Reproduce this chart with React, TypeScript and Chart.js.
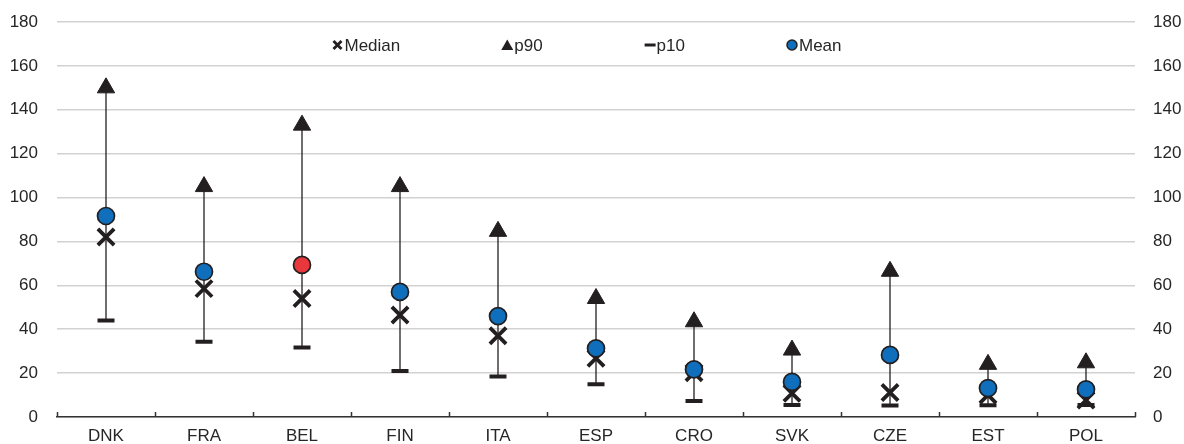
import React, { useEffect, useRef } from "react";
import { Chart, registerables } from "chart.js";

Chart.register(...registerables);

const categories = ["DNK", "FRA", "BEL", "FIN", "ITA", "ESP", "CRO", "SVK", "CZE", "EST", "POL"];
const p90Values = [150, 105, 133, 105, 84.6, 54, 43.4, 30.5, 66.4, 24, 24.7];
const meanValues = [91.6, 66.2, 69.3, 57, 46, 31.3, 21.7, 16, 28.3, 13.2, 12.6];
const medianValues = [82, 58.5, 54, 46.5, 37, 26.8, 20.2, 10.8, 11.2, 10, 7.7];
const p10Values = [44, 34.3, 31.7, 21, 18.4, 14.9, 7.3, 5.5, 5.2, 5.3, 5.5];
const highlightCategory = "BEL";
const yTicksMin = 0;
const yTicksMax = 180;
const yTicksStep = 20;

const DARK = "#231f20";
const BLUE = "#0f6fbd";
const RED = "#e8383d";
const GRID = "#d2d2d2";
const TEXT = "#262626";
const FONT = "'Liberation Sans', Arial, sans-serif";

const meanColors = categories.map((c) => (c === highlightCategory ? RED : BLUE));

const errorBarPlugin = {
  id: "errorBars",
  beforeDatasetsDraw(chart: any) {
    const { ctx } = chart;
    const xs = chart.scales.x;
    const ys = chart.scales.y;
    ctx.save();
    ctx.strokeStyle = DARK;
    ctx.lineWidth = 1.3;
    categories.forEach((_, i) => {
      const x = xs.getPixelForValue(i);
      ctx.beginPath();
      ctx.moveTo(x, ys.getPixelForValue(p10Values[i]));
      ctx.lineTo(x, ys.getPixelForValue(p90Values[i]));
      ctx.stroke();
    });
    ctx.restore();
  },
};

const axisTicksPlugin = {
  id: "axisTicks",
  afterDraw(chart: any) {
    const { ctx, chartArea } = chart;
    const xs = chart.scales.x;
    const n = categories.length;
    const w = (xs.right - xs.left) / n;
    ctx.save();
    ctx.strokeStyle = "#333333";
    ctx.lineWidth = 1.5;
    for (let i = 0; i <= n; i++) {
      const x = Math.round(xs.left + i * w) + 0.5;
      ctx.beginPath();
      ctx.moveTo(x, chartArea.bottom);
      ctx.lineTo(x, chartArea.bottom - 5);
      ctx.stroke();
    }
    ctx.restore();
  },
};

const legendItems = [
  { label: "Median", kind: "cross" },
  { label: "p90", kind: "triangle" },
  { label: "p10", kind: "dash" },
  { label: "Mean", kind: "circle" },
];

const customLegendPlugin = {
  id: "customLegend",
  afterDraw(chart: any) {
    const { ctx, chartArea } = chart;
    ctx.save();
    ctx.font = `17px ${FONT}`;
    const gap = 106;
    const textOff = 8;
    const widths = legendItems.map((it) => ctx.measureText(it.label).width);
    const total = 6 + widths.reduce((a, b) => a + b + textOff, 0) + gap * (legendItems.length - 1);
    let x = (chartArea.left + chartArea.right) / 2 - total / 2 - 9 + 6;
    const y = chartArea.top + 23;
    legendItems.forEach((it, i) => {
      const cx = x;
      ctx.strokeStyle = DARK;
      ctx.fillStyle = DARK;
      if (it.kind === "cross") {
        ctx.lineWidth = 2.8;
        ctx.beginPath();
        ctx.moveTo(cx - 4, y - 4);
        ctx.lineTo(cx + 4, y + 4);
        ctx.moveTo(cx + 4, y - 4);
        ctx.lineTo(cx - 4, y + 4);
        ctx.stroke();
      } else if (it.kind === "triangle") {
        ctx.beginPath();
        ctx.moveTo(cx, y - 5.5);
        ctx.lineTo(cx + 6, y + 5);
        ctx.lineTo(cx - 6, y + 5);
        ctx.closePath();
        ctx.fill();
      } else if (it.kind === "dash") {
        ctx.lineWidth = 3;
        ctx.beginPath();
        ctx.moveTo(cx - 5, y);
        ctx.lineTo(cx + 6, y);
        ctx.stroke();
      } else {
        ctx.lineWidth = 1.5;
        ctx.fillStyle = BLUE;
        ctx.beginPath();
        ctx.arc(cx, y, 5, 0, Math.PI * 2);
        ctx.fill();
        ctx.stroke();
      }
      ctx.fillStyle = TEXT;
      ctx.textAlign = "left";
      ctx.textBaseline = "middle";
      ctx.fillText(it.label, cx + textOff - 1, y + 1);
      x += textOff + widths[i] + gap;
    });
    ctx.restore();
  },
};

export default function App() {
  const canvasRef = useRef<HTMLCanvasElement | null>(null);

  useEffect(() => {
    if (!canvasRef.current) return;
    const tickFont = { family: FONT, size: 17, lineHeight: 1 };
    const chart = new Chart(canvasRef.current, {
      type: "line",
      data: {
        labels: categories,
        datasets: [
          {
            label: "Mean",
            data: meanValues,
            showLine: false,
            pointStyle: "circle",
            pointRadius: 8.5,
            pointBackgroundColor: meanColors,
            pointBorderColor: DARK,
            pointBorderWidth: 1.7,
            yAxisID: "y",
          },
          {
            label: "Median",
            data: medianValues,
            showLine: false,
            pointStyle: "crossRot",
            pointRadius: 11.5,
            pointBorderColor: DARK,
            pointBackgroundColor: DARK,
            pointBorderWidth: 3.8,
            yAxisID: "y",
          },
          {
            label: "p10",
            data: p10Values,
            showLine: false,
            pointStyle: "line",
            pointRadius: 8.5,
            pointBorderColor: DARK,
            pointBorderWidth: 4,
            yAxisID: "y",
          },
          {
            label: "p90",
            data: p90Values,
            showLine: false,
            pointStyle: "triangle",
            pointRadius: 10,
            pointBackgroundColor: DARK,
            pointBorderColor: DARK,
            pointBorderWidth: 1,
            yAxisID: "y",
          },
        ] as any,
      },
      options: {
        animation: false,
        responsive: false,
        maintainAspectRatio: false,
        layout: { padding: { left: 10, right: 3, top: 22, bottom: 0 } },
        plugins: {
          legend: { display: false },
          tooltip: { enabled: false },
        },
        elements: { point: { hitRadius: 0, hoverRadius: 0 } },
        scales: {
          x: {
            offset: true,
            grid: { display: false, drawTicks: false },
            border: { display: true, color: "#333333", width: 1.5 },
            ticks: { color: TEXT, font: tickFont, padding: 11, maxRotation: 0, autoSkip: false },
            afterFit: (s: any) => {
              s.height = 27;
              s.paddingLeft = 0;
              s.paddingRight = 0;
            },
          },
          y: {
            position: "left",
            min: yTicksMin,
            max: yTicksMax,
            grid: { color: GRID, lineWidth: 1.6, drawTicks: false },
            border: { display: false },
            ticks: { stepSize: yTicksStep, color: TEXT, font: tickFont, padding: 19 },
            afterFit: (s: any) => {
              s.width = 47;
              s.paddingTop = 0;
              s.paddingBottom = 0;
            },
          },
          y2: {
            position: "right",
            min: yTicksMin,
            max: yTicksMax,
            grid: { display: false, drawTicks: false },
            border: { display: false },
            ticks: { stepSize: yTicksStep, color: TEXT, font: tickFont, padding: 18 },
            afterFit: (s: any) => {
              s.width = 46;
              s.paddingTop = 0;
              s.paddingBottom = 0;
            },
          },
        },
      } as any,
      plugins: [errorBarPlugin, axisTicksPlugin, customLegendPlugin],
    });
    return () => chart.destroy();
  }, []);

  return (
    <div style={{ position: "fixed", left: 0, top: 0, width: 1184, height: 444, background: "#fff" }}>
      <canvas ref={canvasRef} width={1184} height={444} style={{ display: "block", width: 1184, height: 444 }} />
    </div>
  );
}
